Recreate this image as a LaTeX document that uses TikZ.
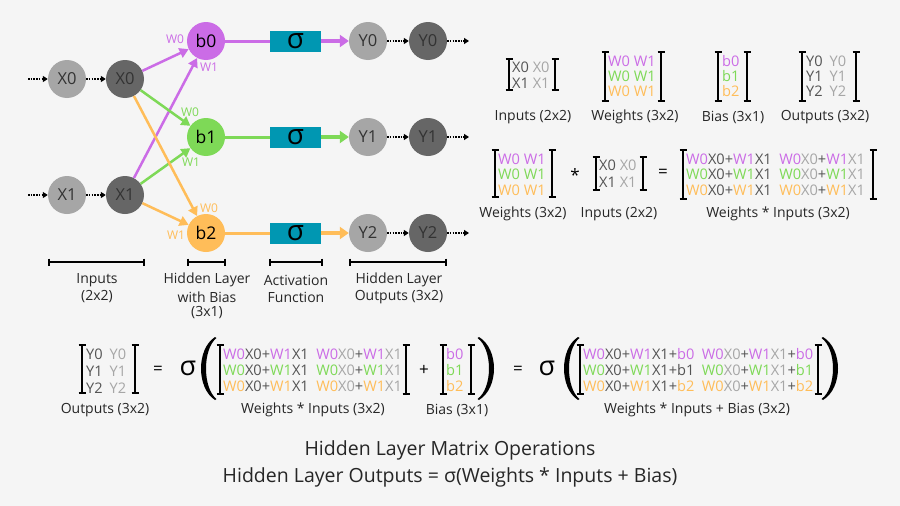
\documentclass[tikz,border=0pt]{standalone}
\usepackage{fontspec}
\setmainfont{Open Sans}
\usetikzlibrary{arrows.meta}
\definecolor{bgc}{HTML}{F5F5F5}
\definecolor{cpur}{HTML}{CB6CE6}
\definecolor{cgrn}{HTML}{7ED957}
\definecolor{corg}{HTML}{FFBD59}
\definecolor{cteal}{HTML}{0097B2}
\definecolor{cdk}{HTML}{545454}
\definecolor{clt}{HTML}{A6A6A6}
\definecolor{cdkc}{HTML}{666666}
\definecolor{ctxt}{HTML}{262626}
\definecolor{ctxtc}{HTML}{333333}
\newcommand\myfs[1]{\fontsize{#1}{#1}\selectfont}
\newcommand\kP[1]{\textcolor{cpur}{#1}}
\newcommand\kG[1]{\textcolor{cgrn}{#1}}
\newcommand\kO[1]{\textcolor{corg}{#1}}
\newcommand\kD[1]{\textcolor{cdk}{#1}}
\newcommand\kL[1]{\textcolor{clt}{#1}}
\newcommand\colgap{\hspace{7.5pt}}
\newcommand\ygap{\hspace{7pt}}
\newcommand\mbrk[4]{%
 \draw[brk] (#1-3.5,#3) -- (#1+3.5,#3) (#1,#3) -- (#1,#4) (#1-3.5,#4) -- (#1+3.5,#4)
            (#2-3.5,#3) -- (#2+3.5,#3) (#2,#3) -- (#2,#4) (#2-3.5,#4) -- (#2+3.5,#4);}
% xe, xm, top, bottom, dir (+1 left paren, -1 right paren)
\newcommand\bigparen[5]{%
 \fill[black] (#1,#3) .. controls ({(8*#2-2*#1)/6},#3+12) and ({(8*#2-2*#1)/6},#4-12) .. (#1,#4)
   -- ({#1+1.5*#5},#4-1) .. controls ({(8*(#2+5*#5)-2*(#1+1.5*#5))/6},#4-12) and ({(8*(#2+5*#5)-2*(#1+1.5*#5))/6},#3+12) .. ({#1+1.5*#5},#3+1) -- cycle;}
\begin{document}
\begin{tikzpicture}[x=1pt,y=-1pt,
  every node/.style={inner sep=0pt, text=ctxt},
  ncirL/.style={circle, minimum size=38pt, fill=clt, font=\myfs{16.5}, text=ctxtc},
  ncirD/.style={circle, minimum size=38pt, fill=cdkc, font=\myfs{16.5}, text=ctxtc},
  nbias/.style={circle, minimum size=38pt, font=\myfs{17.5}, text=black},
  sgbox/.style={rectangle, minimum width=51pt, minimum height=21pt, fill=cteal, font=\myfs{28}, text=black},
  dotarr/.style={black, line width=1.5pt, dash pattern=on 1.5pt off 1.2pt, -{Triangle[length=5pt,width=6pt]}},
  wedge/.style={line width=2.5pt, -{Triangle[length=9pt,width=10pt]}},
  outarr/.style={line width=3.5pt, -{Triangle[length=9pt,width=12pt]}},
  brk/.style={line width=2pt, black},
  scalebar/.style={line width=1.6pt, black},
  mlab/.style={font=\myfs{14}},
  wl/.style={font=\myfs{12}},
  mrow/.style={anchor=west, font=\myfs{14.6}},
  opsym/.style={font=\myfs{17}, text=black},
]
\fill[bgc] (0,0) rectangle (900,506);
\useasboundingbox (0,0) rectangle (900,506);

% ---------- network ----------
\node[ncirL] (x0a) at (67,79) {X0};
\node[ncirD] (x0b) at (125,79) {X0};
\node[ncirL] (x1a) at (67,195) {X1};
\node[ncirD] (x1b) at (125,195) {X1};
\coordinate (ix0) at (28,79);
\coordinate (ix1) at (28,195);
\draw[dotarr] (ix0) -- (x0a);
\draw[dotarr] (x0a) -- (x0b);
\draw[dotarr] (ix1) -- (x1a);
\draw[dotarr] (x1a) -- (x1b);

\node[nbias, fill=cpur] (b0) at (206,41) {b0};
\node[nbias, fill=cgrn] (b1) at (206,137) {b1};
\node[nbias, fill=corg] (b2) at (206,233) {b2};

\draw[wedge, cpur] (x0b) -- (b0);
\draw[wedge, cpur] (x1b) -- (b0);
\draw[wedge, cgrn] (x0b) -- (b1);
\draw[wedge, cgrn] (x1b) -- (b1);
\draw[wedge, corg] (x0b) -- (b2);
\draw[wedge, corg] (x1b) -- (b2);

\node[wl, text=cpur] (w00) at (175,39) {W0};
\node[wl, text=cpur] (w01) at (209,67) {W1};
\node[wl, text=cgrn] (w10) at (190,112) {W0};
\node[wl, text=cgrn] (w11) at (191,162) {W1};
\node[wl, text=corg] (w20) at (209,208) {W0};
\node[wl, text=corg] (w21) at (176,235) {W1};

\node[sgbox] (s0) at (295.5,41) {σ};
\node[sgbox] (s1) at (295.5,137) {σ};
\node[sgbox] (s2) at (295.5,233) {σ};

\node[ncirL] (y0a) at (368,41) {Y0};
\node[ncirD] (y0b) at (428,41) {Y0};
\node[ncirL] (y1a) at (368,137) {Y1};
\node[ncirD] (y1b) at (428,137) {Y1};
\node[ncirL] (y2a) at (368,233) {Y2};
\node[ncirD] (y2b) at (428,233) {Y2};
\coordinate (oy0) at (469,41);
\coordinate (oy1) at (469,137);
\coordinate (oy2) at (469,233);

\draw[line width=3pt, cpur] (b0) -- (s0);
\draw[line width=3pt, cgrn] (b1) -- (s1);
\draw[line width=3pt, corg] (b2) -- (s2);
\draw[outarr, cpur] (s0) -- (y0a);
\draw[outarr, cgrn] (s1) -- (y1a);
\draw[outarr, corg] (s2) -- (y2a);
\draw[dotarr] (y0a) -- (y0b);
\draw[dotarr] (y1a) -- (y1b);
\draw[dotarr] (y2a) -- (y2b);
\draw[dotarr] (y0b) -- (oy0);
\draw[dotarr] (y1b) -- (oy1);
\draw[dotarr] (y2b) -- (oy2);

% scale bars
\draw[scalebar] (49,262) -- (144,262) (49,258.5) -- (49,265.5) (144,258.5) -- (144,265.5);
\draw[scalebar] (188,262) -- (225,262) (188,258.5) -- (188,265.5) (225,258.5) -- (225,265.5);
\draw[scalebar] (270,262) -- (322,262) (270,258.5) -- (270,265.5) (322,258.5) -- (322,265.5);
\draw[scalebar] (350,262) -- (446,262) (350,258.5) -- (350,265.5) (446,258.5) -- (446,265.5);

\node[mlab] (l1a) at (97,280) {Inputs};
\node[mlab] (l1b) at (97,297) {(2x2)};
\node[mlab] (l2a) at (207,280) {Hidden Layer};
\node[mlab] (l2b) at (207,297) {with Bias};
\node[mlab] (l2c) at (207,313) {(3x1)};
\node[mlab] (l3a) at (296,280) {Activation};
\node[mlab] (l3b) at (296,297) {Function};
\node[mlab] (l4a) at (399,280) {Hidden Layer};
\node[mlab] (l4b) at (399,297) {Outputs (3x2)};

% ---------- top-right matrices ----------
\mbrk{509}{555}{59}{90}
\node[mrow] (m1a) at (512,67) {\kD{X0} \kL{X0}};
\node[mrow] (m1b) at (512,83) {\kD{X1} \kL{X1}};
\node[mlab] (m1l) at (533,117) {Inputs (2x2)};

\mbrk{605}{661}{52}{101}
\node[mrow] (m2a) at (608,61) {\kP{W0 W1}};
\node[mrow] (m2b) at (608,76) {\kG{W0 W1}};
\node[mrow] (m2c) at (608,91) {\kO{W0 W1}};
\node[mlab] (m2l) at (635,117) {Weights (3x2)};

\mbrk{718}{747}{52}{101}
\node[mrow] (m3a) at (722,61) {\kP{b0}};
\node[mrow] (m3b) at (722,76) {\kG{b1}};
\node[mrow] (m3c) at (722,91) {\kO{b2}};
\node[mlab] (m3l) at (733,117) {Bias (3x1)};

\mbrk{802}{856}{52}{101}
\node[mrow] (m4a) at (806,61) {\kD{Y0}\ygap\kL{Y0}};
\node[mrow] (m4b) at (806,76) {\kD{Y1}\ygap\kL{Y1}};
\node[mrow] (m4c) at (806,91) {\kD{Y2}\ygap\kL{Y2}};
\node[mlab] (m4l) at (825,117) {Outputs (3x2)};

% ---------- second row ----------
\mbrk{495}{552}{150}{197}
\node[mrow] (m5a) at (498,159) {\kP{W0 W1}};
\node[mrow] (m5b) at (498,174) {\kG{W0 W1}};
\node[mrow] (m5c) at (498,190) {\kO{W0 W1}};
\node[mlab] (m5l) at (523,214) {Weights (3x2)};
\node[opsym] (op1) at (575,175) {*};
\mbrk{596}{643}{157}{190}
\node[mrow] (m6a) at (599,165) {\kD{X0} \kL{X0}};
\node[mrow] (m6b) at (599,182) {\kD{X1} \kL{X1}};
\node[mlab] (m6l) at (619,214) {Inputs (2x2)};
\node[opsym] (op2) at (663,173) {=};
\mbrk{683}{873}{150}{199}
\node[mrow] (m7a) at (686,159) {\kP{W0}\kD{X0+}\kP{W1}\kD{X1}\colgap\kP{W0}\kL{X0}\kD{+}\kP{W1}\kL{X1}};
\node[mrow] (m7b) at (686,174) {\kG{W0}\kD{X0+}\kG{W1}\kD{X1}\colgap\kG{W0}\kL{X0}\kD{+}\kG{W1}\kL{X1}};
\node[mrow] (m7c) at (686,190) {\kO{W0}\kD{X0+}\kO{W1}\kD{X1}\colgap\kO{W0}\kL{X0}\kD{+}\kO{W1}\kL{X1}};
\node[mlab] (m7l) at (778,214) {Weights * Inputs (3x2)};

% ---------- third row ----------
\mbrk{82}{135}{345}{393}
\node[mrow] (m8a) at (86,354) {\kD{Y0}\ygap\kL{Y0}};
\node[mrow] (m8b) at (86,371) {\kD{Y1}\ygap\kL{Y1}};
\node[mrow] (m8c) at (86,388) {\kD{Y2}\ygap\kL{Y2}};
\node[mlab] (m8l) at (105,410) {Outputs (3x2)};
\node[opsym] (op3) at (158,370) {=};
\node[font=\myfs{27}, text=black] (sg1) at (188,368) {σ};
\bigparen{215}{201}{337}{400}{1}
\mbrk{220}{406}{345}{394}
\node[mrow] (m9a) at (223,354) {\kP{W0}\kD{X0+}\kP{W1}\kD{X1}\colgap\kP{W0}\kL{X0}\kD{+}\kP{W1}\kL{X1}};
\node[mrow] (m9b) at (223,370) {\kG{W0}\kD{X0+}\kG{W1}\kD{X1}\colgap\kG{W0}\kL{X0}\kD{+}\kG{W1}\kL{X1}};
\node[mrow] (m9c) at (223,386) {\kO{W0}\kD{X0+}\kO{W1}\kD{X1}\colgap\kO{W0}\kL{X0}\kD{+}\kO{W1}\kL{X1}};
\node[mlab] (m9l) at (313,410) {Weights * Inputs (3x2)};
\node[opsym] (op4) at (424,370) {+};
\mbrk{443}{471}{345}{394}
\node[mrow] (m10a) at (446,354) {\kP{b0}};
\node[mrow] (m10b) at (446,370) {\kG{b1}};
\node[mrow] (m10c) at (446,386) {\kO{b2}};
\node[mlab] (m10l) at (457,410) {Bias (3x1)};
\bigparen{479}{494}{337}{400}{-1}
\node[opsym] (op5) at (518,370) {=};
\node[font=\myfs{27}, text=black] (sg2) at (547,368) {σ};
\bigparen{578}{564}{337}{400}{1}
\mbrk{580}{818}{345}{394}
\node[mrow] (m11a) at (583,354) {\kP{W0}\kD{X0+}\kP{W1}\kD{X1+}\kP{b0}\colgap\kP{W0}\kL{X0}\kD{+}\kP{W1}\kL{X1}\kD{+}\kP{b0}};
\node[mrow] (m11b) at (583,370) {\kG{W0}\kD{X0+}\kG{W1}\kD{X1+b1}\colgap\kG{W0}\kL{X0}\kD{+}\kG{W1}\kL{X1}\kD{+}\kG{b1}};
\node[mrow] (m11c) at (583,386) {\kO{W0}\kD{X0+}\kO{W1}\kD{X1+}\kO{b2}\colgap\kO{W0}\kL{X0}\kD{+}\kO{W1}\kL{X1}\kD{+}\kO{b2}};
\node[mlab] (m11l) at (697,410) {Weights * Inputs + Bias (3x2)};
\bigparen{823}{838}{337}{400}{-1}

% ---------- titles ----------
\node[font=\myfs{19.5}] (t1) at (450,450) {Hidden Layer Matrix Operations};
\node[font=\myfs{19.5}] (t2) at (450,477) {Hidden Layer Outputs = σ(Weights * Inputs + Bias)};
\end{tikzpicture}
\end{document}
